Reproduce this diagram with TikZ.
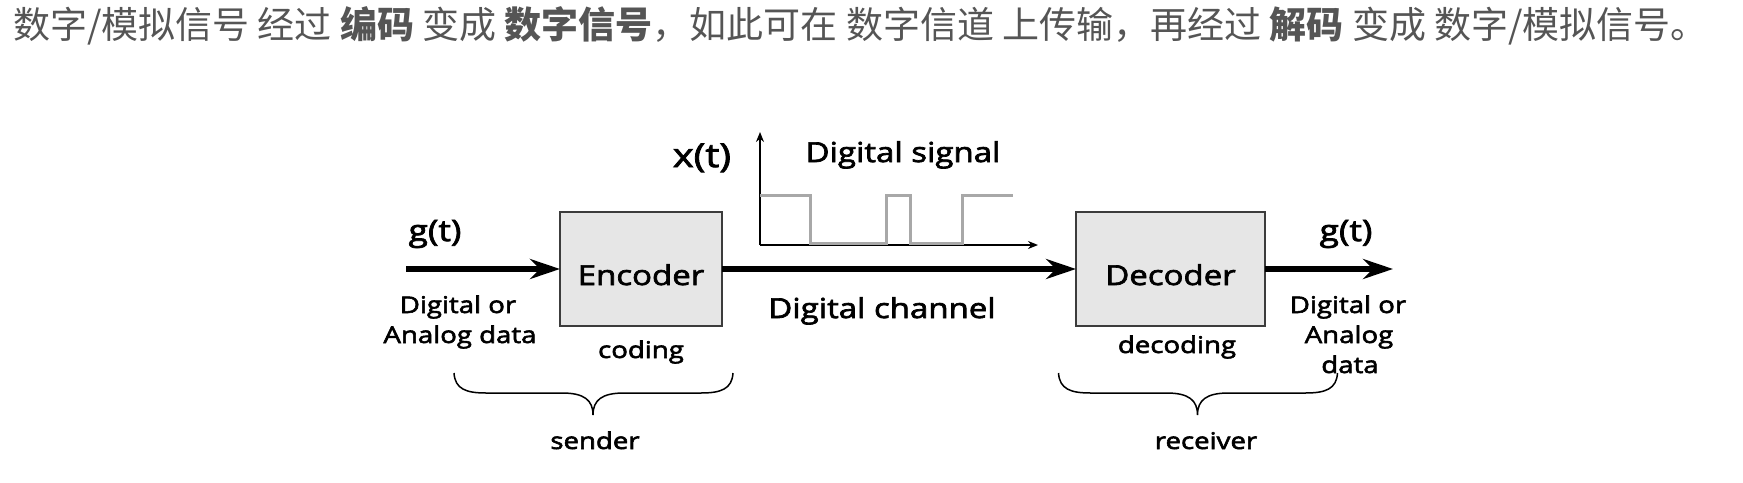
\documentclass[tikz,border=0pt]{standalone}
\usepackage{fontspec}
\setmainfont{Open Sans}[FakeStretch=1.2, FakeBold=2.5]
\newfontfamily\cjk{Noto Sans CJK SC}
\usetikzlibrary{arrows.meta}
\definecolor{captiongray}{HTML}{555555}
\definecolor{sig}{HTML}{A8A8A8}
\definecolor{marble}{HTML}{E6E6E6}
\definecolor{boxline}{HTML}{3C3C3C}
\begin{document}
\begin{tikzpicture}[x=1pt,y=-1pt,
  big/.style={font=\fontsize{27.5}{30}\selectfont, inner sep=0pt, anchor=base},
  small/.style={font=\fontsize{23}{28}\selectfont, inner sep=0pt, anchor=base},
  box/.style={draw=boxline, line width=1.5pt, fill=marble, minimum height=114pt,
              outer sep=0pt, inner sep=0pt, font=\fontsize{27.5}{30}\selectfont,
              text height=32pt, text depth=0pt},
  flow/.style={line width=5.5pt, -{Stealth[length=30pt,width=20pt,inset=10pt]}},
  axis/.style={line width=1.5pt, -{Stealth[length=10pt,width=8pt]}},
  signal/.style={draw=sig, line width=3pt},
  bracepath/.style={line width=1.5pt}
]
\path[use as bounding box, fill=white] (0,0) rectangle (1743,482);

\node[anchor=base west, inner sep=0pt, text=captiongray, font=\cjk\fontsize{37}{40}\selectfont] (caption) at (13,38)
  {数字/模拟信号 经过 \textbf{编码} 变成 \textbf{数字信号}，如此可在 数字信道 上传输，再经过 \textbf{解码} 变成 数字/模拟信号。};

% boxes
\node[box, minimum width=162pt] (enc) at (641,269) {Encoder};
\node[box, minimum width=189pt] (dec) at (1170.5,269) {Decoder};

% main flow
\coordinate (gin) at (406,269);
\coordinate (gout) at (1393,269);
\draw[flow] (gin) -- (enc.west);
\draw[flow] (enc.east) -- (dec.west);
\draw[flow] (dec.east) -- (gout);

% signal plot
\coordinate (o) at (760,245);
\coordinate (ytip) at (760,132);
\coordinate (xtip) at (1038,245);
\draw[axis] (o) -- (ytip);
\draw[axis] (o) -- (xtip);
\draw[signal] (760,195) -- (810,195) -- (810,243) -- (886,243) -- (886,195) -- (910,195)
  -- (910,243) -- (962,243) -- (962,195) -- (1013,195);

% braces
\draw[bracepath] (454,373) .. controls (455,389) and (466,393) .. (486,393) -- (562,393)
  .. controls (584,393) and (593,400) .. (593,415)
  .. controls (593,400) and (602,393) .. (624,393) -- (701,393)
  .. controls (721,393) and (732,389) .. (733,373);
\begin{scope}[shift={(604.5,0)}]
\draw[bracepath] (454,373) .. controls (455,389) and (466,393) .. (486,393) -- (562,393)
  .. controls (584,393) and (593,400) .. (593,415)
  .. controls (593,400) and (602,393) .. (624,393) -- (701,393)
  .. controls (721,393) and (732,389) .. (733,373);
\end{scope}

% labels
\node[big, font=\fontsize{33}{36}\selectfont] (xt) at (702,167) {x(t)};
\node[big] (dsig) at (903,162) {Digital signal};
\node[big, font=\fontsize{29.5}{32}\selectfont] (glabin) at (435,241) {g(t)};
\node[big, font=\fontsize{29.5}{32}\selectfont] (glabout) at (1346,241) {g(t)};
\node[big] (dch) at (882,318) {Digital channel};
\node[small] (inA) at (458,313) {Digital or};
\node[small] (inB) at (460,343) {Analog data};
\node[small] (cod) at (641,358) {coding};
\node[small] (decod) at (1177,353) {decoding};
\node[small] (outA) at (1348,313) {Digital or};
\node[small] (outB) at (1349,343) {Analog};
\node[small] (outC) at (1350,373) {data};
\node[small] (snd) at (595,449) {sender};
\node[small] (rcv) at (1206,449) {receiver};
\end{tikzpicture}
\end{document}
